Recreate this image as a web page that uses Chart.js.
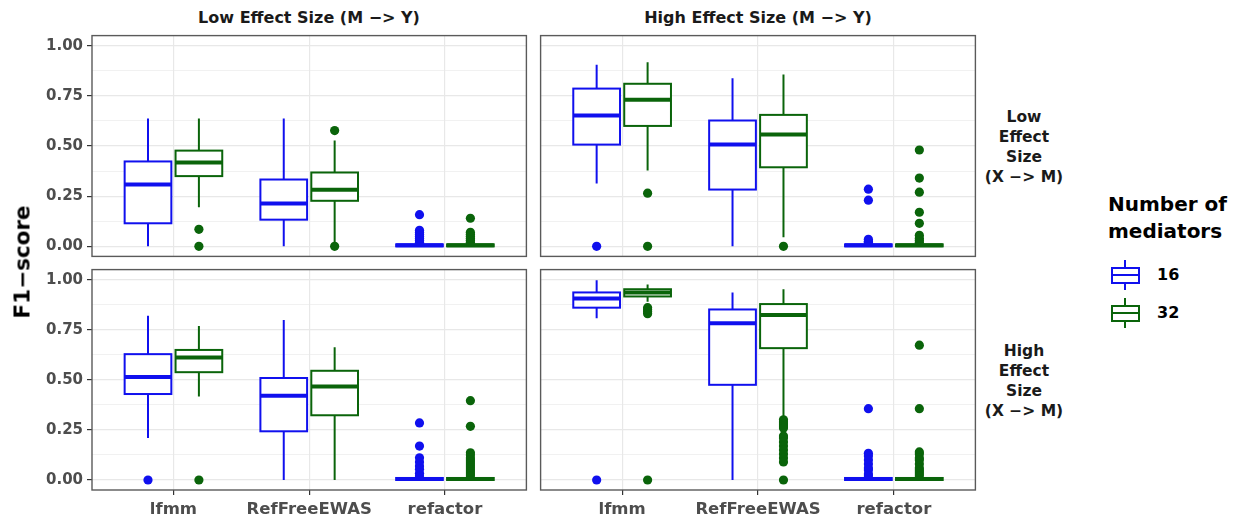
<!DOCTYPE html>
<html>
<head>
<meta charset="utf-8">
<script src="https://cdn.jsdelivr.net/npm/chart.js@4"></script>
<style>
  body { margin: 0; background: #fff; }
  #wrap { position: relative; width: 1234px; height: 521px; background: #fff; overflow: hidden;
          font-family: "DejaVu Sans", sans-serif; font-weight: bold; }
  #wrap canvas { position: absolute; }
  .txt { position: absolute; white-space: nowrap; }
  .strip-top { font-size: 16px; color: #1a1a1a; transform: translate(-50%, -50%); }
  .strip-right { font-size: 15.5px; color: #1a1a1a; text-align: center; line-height: 20px; transform: translate(-50%, -50%); }
  .key { position: absolute; }
</style>
</head>
<body>
<div id="wrap">
  <canvas id="c1" width="531" height="230" style="left:0px;top:31px"></canvas>
  <canvas id="c2" width="444" height="230" style="left:536px;top:31px"></canvas>
  <canvas id="c3" width="531" height="256" style="left:0px;top:265px"></canvas>
  <canvas id="c4" width="444" height="256" style="left:536px;top:265px"></canvas>
</div>
<script>
// ---------------- DATA ----------------
const methods = ["lfmm", "RefFreeEWAS", "refactor"];
const mediators = ["16", "32"];
const colLabels = ["Low Effect Size (M \u2212> Y)", "High Effect Size (M \u2212> Y)"];
const rowLabels = [["Low", "Effect", "Size", "(X \u2212> M)"], ["High", "Effect", "Size", "(X \u2212> M)"]];
const yMajor = [0, 0.25, 0.5, 0.75, 1];
const yMinor = [0.125, 0.375, 0.625, 0.875];

// box stats per method: [lower whisker, Q1, median, Q3, upper whisker]
// top-left : low M->Y, low X->M
const tl16 = [[0, 0.115, 0.308, 0.423, 0.637], [0, 0.133, 0.213, 0.333, 0.637], [0, 0, 0.005, 0.01, 0.01]];
const tl32 = [[0.195, 0.35, 0.418, 0.477, 0.637], [0.02, 0.227, 0.282, 0.368, 0.527], [0, 0, 0.005, 0.01, 0.01]];
const tl16out = [[], [], [0.158, 0.08, 0.07, 0.06, 0.05, 0.04, 0.03, 0.02]];
const tl32out = [[0.085, 0], [0.577, 0], [0.14, 0.07, 0.06, 0.05, 0.04, 0.03, 0.02]];

// top-right : high M->Y, low X->M
const tr16 = [[0.313, 0.507, 0.652, 0.786, 0.905], [0, 0.283, 0.507, 0.627, 0.837], [0, 0, 0.005, 0.01, 0.01]];
const tr32 = [[0.378, 0.60, 0.73, 0.81, 0.917], [0.045, 0.394, 0.557, 0.655, 0.856], [0, 0, 0.005, 0.01, 0.012]];
const tr16out = [[0], [], [0.285, 0.23, 0.035, 0.025, 0.02]];
const tr32out = [[0.265, 0], [0], [0.48, 0.34, 0.27, 0.17, 0.115, 0.055, 0.04, 0.03, 0.02]];

// bottom-left : low M->Y, high X->M
const bl16 = [[0.21, 0.429, 0.514, 0.628, 0.82], [0, 0.243, 0.421, 0.509, 0.798], [0, 0, 0.005, 0.01, 0.01]];
const bl32 = [[0.417, 0.538, 0.611, 0.649, 0.768], [0, 0.323, 0.467, 0.545, 0.663], [0, 0, 0.005, 0.01, 0.012]];
const bl16out = [[0], [], [0.285, 0.169, 0.111, 0.09, 0.07, 0.053, 0.033, 0.02]];
const bl32out = [[0], [], [0.396, 0.268, 0.136, 0.125, 0.11, 0.1, 0.09, 0.08, 0.07, 0.06, 0.05, 0.04, 0.03, 0.02]];

// bottom-right : high M->Y, high X->M
const br16 = [[0.807, 0.86, 0.906, 0.936, 0.997], [0, 0.475, 0.782, 0.851, 0.936], [0, 0, 0.005, 0.01, 0.01]];
const br32 = [[0.89, 0.916, 0.936, 0.952, 0.976], [0.31, 0.658, 0.823, 0.878, 0.952], [0, 0, 0.005, 0.01, 0.012]];
const br16out = [[0], [], [0.356, 0.133, 0.12, 0.1, 0.08, 0.06, 0.05, 0.03, 0.02]];
const br32out = [[0.86, 0.85, 0.84, 0.83, 0],
                 [0.3, 0.29, 0.28, 0.27, 0.26, 0.22, 0.21, 0.19, 0.17, 0.15, 0.13, 0.11, 0.09, 0],
                 [0.673, 0.356, 0.14, 0.13, 0.11, 0.1, 0.08, 0.06, 0.05, 0.04, 0.03, 0.02]];

// ---------------- STYLE ----------------
const colors = ["#1010ee", "#0a640a"];
const dodge = 0.1875;
const halfBox = 0.172;
const gridCol = "#e8e8e8";
const FONT = "DejaVu Sans";

const isMajor = v => Math.abs(v * 4 - Math.round(v * 4)) < 1e-9;

// boxes + whiskers drawn from the chart's own scales
function boxPlugin(s16, s32) {
    return {
        id: "boxes",
        beforeDatasetsDraw(chart) {
            const { ctx, chartArea: a, scales: { x, y } } = chart;
            ctx.save();
            ctx.beginPath();
            ctx.rect(a.left, a.top, a.right - a.left, a.bottom - a.top);
            ctx.clip();
            [s16, s32].forEach((set, g) => {
                const off = g === 0 ? -dodge : dodge;
                set.forEach((s, i) => {
                    const xc = x.getPixelForValue(i + 1 + off);
                    const xl = x.getPixelForValue(i + 1 + off - halfBox);
                    const xr = x.getPixelForValue(i + 1 + off + halfBox);
                    const [lo, q1, md, q3, hi] = s.map(v => y.getPixelForValue(v));
                    ctx.strokeStyle = colors[g];
                    ctx.lineWidth = 2;
                    ctx.beginPath();
                    ctx.moveTo(xc, hi); ctx.lineTo(xc, q3);
                    ctx.moveTo(xc, q1); ctx.lineTo(xc, lo);
                    ctx.stroke();
                    ctx.fillStyle = "#fff";
                    ctx.fillRect(xl, q3, xr - xl, q1 - q3);
                    ctx.strokeRect(xl, q3, xr - xl, q1 - q3);
                    ctx.lineWidth = 4;
                    ctx.beginPath();
                    ctx.moveTo(xl, md); ctx.lineTo(xr, md);
                    ctx.stroke();
                });
            });
            ctx.restore();
        },
        afterDraw(chart) {
            const { ctx, chartArea: a } = chart;
            ctx.save();
            ctx.strokeStyle = "#5a5a5a";
            ctx.lineWidth = 1.4;
            ctx.strokeRect(a.left, a.top, a.right - a.left, a.bottom - a.top);
            ctx.restore();
        }
    };
}

function outlierData(out, g) {
    const off = g === 0 ? -dodge : dodge;
    const pts = [];
    out.forEach((vals, i) => vals.forEach(v => pts.push({ x: i + 1 + off, y: v })));
    return pts;
}

function makePanel(id, s16, s32, o16, o32, showY, showX) {
    new Chart(document.getElementById(id), {
        type: "scatter",
        data: {
            datasets: [
                { label: mediators[0], data: outlierData(o16, 0), backgroundColor: colors[0], pointRadius: 4.6, borderWidth: 0 },
                { label: mediators[1], data: outlierData(o32, 1), backgroundColor: colors[1], pointRadius: 4.6, borderWidth: 0 }
            ]
        },
        options: {
            responsive: false,
            animation: false,
            events: [],
            layout: { padding: { top: 4, right: 4, bottom: showX ? 0 : 4, left: showY ? 0 : 4 } },
            plugins: { legend: { display: false }, tooltip: { enabled: false } },
            scales: {
                x: {
                    type: "linear", min: 0.4, max: 3.6,
                    afterBuildTicks: s => { s.ticks = methods.map((m, i) => ({ value: i + 1 })); },
                    afterFit: s => { s.height = showX ? 31 : 0; s.paddingLeft = 0; s.paddingRight = 0; },
                    border: { display: false },
                    grid: { color: gridCol, lineWidth: 1.2, drawTicks: showX, tickLength: 5, tickColor: "#333" },
                    ticks: {
                        display: showX, autoSkip: false, maxRotation: 0, padding: 5,
                        color: "#4d4d4d", font: { family: FONT, weight: "bold", size: 16.5 },
                        callback: v => methods[Math.round(v) - 1]
                    }
                },
                y: {
                    type: "linear", min: -0.05, max: 1.05,
                    afterBuildTicks: s => { s.ticks = yMajor.concat(yMinor).sort((a, b) => a - b).map(v => ({ value: v })); },
                    afterFit: s => { s.width = showY ? 92 : 0; s.paddingTop = 0; s.paddingBottom = 0; },
                    border: { display: false },
                    grid: {
                        color: gridCol,
                        lineWidth: c => isMajor(c.tick.value) ? 1.2 : 0.6,
                        drawTicks: showY, tickLength: 5,
                        tickColor: c => isMajor(c.tick.value) ? "#333" : "rgba(0,0,0,0)"
                    },
                    ticks: {
                        display: showY, autoSkip: false, padding: 4,
                        color: "#4d4d4d", font: { family: FONT, weight: "bold", size: 15 },
                        callback: v => isMajor(v) ? v.toFixed(2) : ""
                    }
                }
            }
        },
        plugins: [boxPlugin(s16, s32)]
    });
}

makePanel("c1", tl16, tl32, tl16out, tl32out, true, false);
makePanel("c2", tr16, tr32, tr16out, tr32out, false, false);
makePanel("c3", bl16, bl32, bl16out, bl32out, true, true);
makePanel("c4", br16, br32, br16out, br32out, false, true);

// ---------------- TEXT / LEGEND ----------------
const wrap = document.getElementById("wrap");
function addDiv(cls, html, css) {
    const d = document.createElement("div");
    d.className = cls;
    d.innerHTML = html;
    Object.assign(d.style, css);
    wrap.appendChild(d);
    return d;
}

addDiv("txt strip-top", colLabels[0], { left: "309px", top: "17px" });
addDiv("txt strip-top", colLabels[1], { left: "758px", top: "17px" });
addDiv("txt strip-right", rowLabels[0].join("<br>"), { left: "1024px", top: "147px" });
addDiv("txt strip-right", rowLabels[1].join("<br>"), { left: "1024px", top: "381px" });
addDiv("txt", "F1\u2212score", { left: "22px", top: "262px", fontSize: "21.5px", color: "#000",
    transform: "translate(-50%, -50%) rotate(-90deg)" });

addDiv("txt", "Number of<br>mediators", { left: "1108px", top: "191px", fontSize: "20px", lineHeight: "27px", color: "#000" });

function legendKey(top, color, label) {
    addDiv("key", "", { left: "1124px", top: top + "px", width: "2px", height: "30px", background: color });
    addDiv("key", "", { left: "1111px", top: (top + 7) + "px", width: "25px", height: "13px",
        border: "2px solid " + color, background: "#fff" });
    addDiv("key", "", { left: "1111px", top: (top + 14) + "px", width: "29px", height: "2px", background: color });
    addDiv("txt", label, { left: "1157px", top: (top + 5) + "px", fontSize: "16px", color: "#000", lineHeight: "20px" });
}
legendKey(260, colors[0], mediators[0]);
legendKey(298, colors[1], mediators[1]);
</script>
</body>
</html>
